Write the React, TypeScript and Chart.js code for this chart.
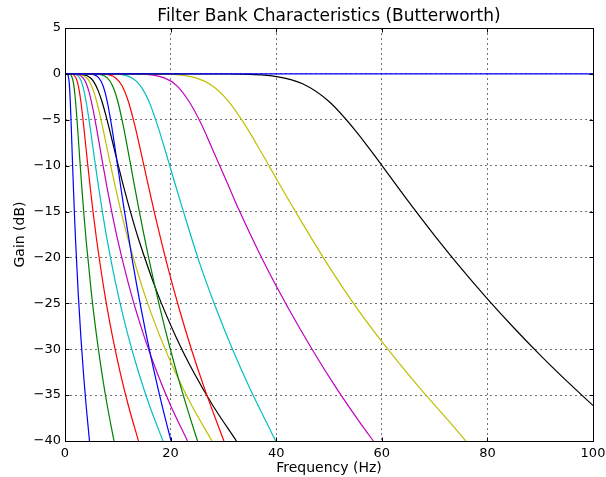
import { useEffect, useRef } from 'react';
import { Chart, registerables } from 'chart.js';

Chart.register(...registerables);

const TITLE = 'Filter Bank Characteristics (Butterworth)';
const X_LABEL = 'Frequency (Hz)';
const Y_LABEL = 'Gain (dB)';

// Low bands: gain levels (dB)
const GAIN_LOW = [0, -0.07, -0.48, -1.01, -1.85, -3.01, -4.43, -6.0, -9.31, -12.5, -15.44, -18.13, -23.89, -28.63, -32.65, -36.13, -40];
const FREQ_B1 = [0, 0.5, 0.7, 0.8, 0.9, 1.0, 1.1, 1.2, 1.4, 1.6, 1.8, 2.0, 2.5, 3.0, 3.5, 4.0, 4.64];
const FREQ_G1 = [0, 1.0, 1.4, 1.6, 1.8, 2.0, 2.2, 2.4, 2.8, 3.2, 3.6, 4.0, 5.0, 6.0, 7.0, 8.0, 9.28];
const FREQ_R1 = [0, 1.5, 2.1, 2.4, 2.7, 3.0, 3.3, 3.6, 4.2, 4.8, 5.4, 6.0, 7.5, 9.0, 10.5, 12.0, 13.92];
const FREQ_C1 = [0, 2.0, 2.8, 3.2, 3.6, 4.0, 4.4, 4.8, 5.6, 6.4, 7.2, 8.0, 10.0, 12.0, 14.0, 16.0, 18.56];
const FREQ_M1 = [0, 2.5, 3.5, 4.0, 4.5, 5.0, 5.5, 6.0, 7.0, 8.0, 9.0, 10.0, 12.5, 15.0, 17.5, 20.0, 23.2];
const FREQ_Y1 = [0, 3.0, 4.2, 4.8, 5.4, 6.0, 6.6, 7.2, 8.4, 9.6, 10.8, 12.0, 15.0, 18.0, 21.0, 24.0, 27.84];
const FREQ_K1 = [0, 3.5, 4.9, 5.6, 6.3, 7.0, 7.7, 8.4, 9.8, 11.2, 12.6, 14.0, 17.5, 21.0, 24.5, 28.0, 32.48];

// Higher bands: gain levels (dB)
const GAIN_HIGH = [0, -0.03, -0.44, -1.3, -3.01, -5.56, -8.57, -11.7, -14.76, -20.45, -25.54, -30.11, -34.24, -38.02, -40];
const FREQ_B2 = [0, 4.8, 6.4, 7.2, 8.0, 8.8, 9.6, 10.4, 11.2, 12.8, 14.4, 16.0, 17.6, 19.2, 20.1];
const FREQ_G2 = [0, 6.0, 8.0, 9.0, 10.0, 11.0, 12.0, 13.0, 14.0, 16.0, 18.0, 20.0, 22.0, 24.0, 25.1];
const FREQ_R2 = [0, 7.2, 9.6, 10.8, 12.0, 13.2, 14.4, 15.6, 16.8, 19.2, 21.6, 24.0, 26.4, 28.8, 30.1];
const FREQ_C2 = [0, 9.5, 12.7, 14.3, 15.9, 17.5, 19.1, 20.7, 22.3, 25.4, 28.6, 31.8, 35.0, 38.2, 39.9];
const FREQ_M2 = [0, 14.1, 18.8, 21.2, 23.5, 25.9, 28.2, 30.6, 32.9, 37.6, 42.3, 46.9, 51.4, 55.9, 58.4];
const FREQ_Y2 = [0, 18.6, 24.8, 27.9, 31.0, 34.1, 37.2, 40.3, 43.4, 49.4, 55.3, 61.3, 67.2, 73.0, 75.9];

// Widest band
const FREQ_K2 = [0, 20, 30, 35, 40, 45, 50, 55, 60, 65, 70, 75, 80, 85, 90, 95, 100];
const GAIN_K2 = [0, 0, -0.01, -0.06, -0.29, -1.08, -3.01, -6.17, -9.96, -13.86, -17.61, -21.16, -24.51, -27.66, -30.64, -33.45, -36.13];

// Flat pass-through
const FREQ_FLAT = [0, 100];
const GAIN_FLAT = [0, 0];

const BLUE = '#0000ff';
const GREEN = '#008000';
const RED = '#ff0000';
const CYAN = '#00bfbf';
const MAGENTA = '#bf00bf';
const YELLOW = '#bfbf00';
const BLACK = '#000000';

const SERIES: [number[], number[], string][] = [
  [FREQ_B1, GAIN_LOW, BLUE],
  [FREQ_G1, GAIN_LOW, GREEN],
  [FREQ_R1, GAIN_LOW, RED],
  [FREQ_C1, GAIN_LOW, CYAN],
  [FREQ_M1, GAIN_LOW, MAGENTA],
  [FREQ_Y1, GAIN_LOW, YELLOW],
  [FREQ_K1, GAIN_LOW, BLACK],
  [FREQ_B2, GAIN_HIGH, BLUE],
  [FREQ_G2, GAIN_HIGH, GREEN],
  [FREQ_R2, GAIN_HIGH, RED],
  [FREQ_C2, GAIN_HIGH, CYAN],
  [FREQ_M2, GAIN_HIGH, MAGENTA],
  [FREQ_Y2, GAIN_HIGH, YELLOW],
  [FREQ_K2, GAIN_K2, BLACK],
  [FREQ_FLAT, GAIN_FLAT, BLUE],
];

const FONT = 'DejaVu Sans';

const framePlugin = {
  id: 'mplFrame',
  afterDatasetsDraw(chart: any) {
    const { ctx, chartArea, scales } = chart;
    const L = Math.round(chartArea.left) + 0.5;
    const R = Math.round(chartArea.right) + 0.5;
    const T = Math.round(chartArea.top) + 0.5;
    const B = Math.round(chartArea.bottom) + 0.5;
    ctx.save();
    ctx.strokeStyle = '#000';
    ctx.lineWidth = 1;
    ctx.beginPath();
    for (const t of scales.x.ticks) {
      const px = Math.round(scales.x.getPixelForValue(t.value)) + 0.5;
      ctx.moveTo(px, B);
      ctx.lineTo(px, B - 4);
      ctx.moveTo(px, T);
      ctx.lineTo(px, T + 4);
    }
    for (const t of scales.y.ticks) {
      const py = Math.round(scales.y.getPixelForValue(t.value)) + 0.5;
      ctx.moveTo(L, py);
      ctx.lineTo(L + 4, py);
      ctx.moveTo(R, py);
      ctx.lineTo(R - 4, py);
    }
    ctx.stroke();
    ctx.strokeRect(L, T, R - L, B - T);
    // title centred over the plot area
    ctx.fillStyle = '#000';
    ctx.font = `17px "${FONT}"`;
    ctx.textAlign = 'center';
    ctx.textBaseline = 'middle';
    ctx.fillText(TITLE, (chartArea.left + chartArea.right) / 2, 17);
    ctx.restore();
  },
};

const minus = (v: number) => (v < 0 ? '\u2212' + Math.abs(v) : String(v));

export default function App() {
  const ref = useRef<HTMLCanvasElement | null>(null);

  useEffect(() => {
    document.body.style.margin = '0';
    const canvas = ref.current;
    if (!canvas) return;
    const datasets = SERIES.map(([fx, gy, color]) => ({
      data: fx.map((f, i) => ({ x: f, y: gy[i] })),
      borderColor: color,
      backgroundColor: color,
      borderWidth: 1.2,
      pointRadius: 0,
      fill: false,
      cubicInterpolationMode: 'monotone' as const,
    })).reverse();

    const chart = new Chart(canvas, {
      type: 'line',
      data: { datasets },
      options: {
        animation: false,
        responsive: false,
        devicePixelRatio: 1,
        layout: { padding: { left: 0, right: 13, top: 28, bottom: 0 } },
        plugins: {
          legend: { display: false },
          tooltip: { enabled: false },
          title: { display: false },
        },
        scales: {
          x: {
            type: 'linear',
            min: 0,
            max: 100,
            afterFit: (axis: any) => {
              axis.height = 36;
              axis.paddingLeft = 0;
              axis.paddingRight = 0;
            },
            ticks: {
              stepSize: 20,
              color: '#000',
              font: { family: FONT, size: 13 },
              padding: 5,
              maxRotation: 0,
              callback: (v: any) => minus(Number(v)),
            },
            grid: { color: 'rgba(0,0,0,0.55)', lineWidth: 1, drawTicks: false },
            border: { display: false, dash: [2, 3] },
            title: {
              display: true,
              text: X_LABEL,
              color: '#000',
              font: { family: FONT, size: 14 },
              padding: { top: 0, bottom: 0 },
            },
          },
          y: {
            type: 'linear',
            min: -40,
            max: 5,
            afterFit: (axis: any) => {
              axis.width = 65;
              axis.paddingTop = 0;
              axis.paddingBottom = 0;
            },
            ticks: {
              stepSize: 5,
              color: '#000',
              font: { family: FONT, size: 13 },
              padding: 4,
              callback: (v: any) => minus(Number(v)),
            },
            grid: { color: 'rgba(0,0,0,0.55)', lineWidth: 1, drawTicks: false },
            border: { display: false, dash: [2, 3] },
            title: {
              display: true,
              text: Y_LABEL,
              color: '#000',
              font: { family: FONT, size: 14 },
              padding: { top: 12, bottom: 0 },
            },
          },
        },
      },
      plugins: [framePlugin],
    });
    return () => chart.destroy();
  }, []);

  return (
    <div style={{ position: 'absolute', left: 0, top: 0, width: 606, height: 477 }}>
      <canvas ref={ref} width={606} height={477} style={{ display: 'block' }} />
    </div>
  );
}
